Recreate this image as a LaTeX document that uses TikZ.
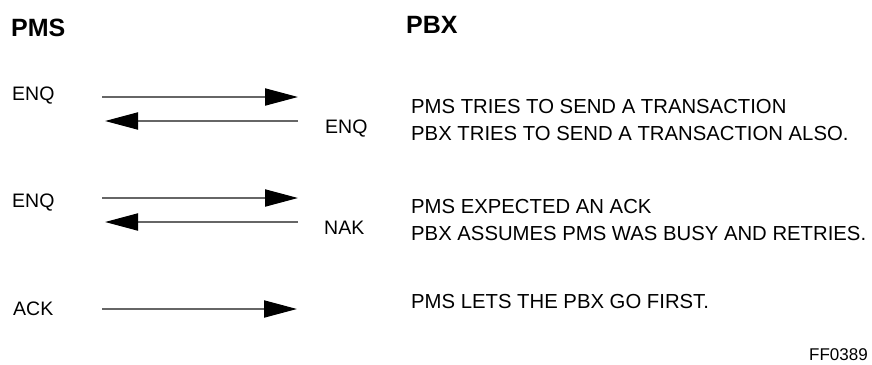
\documentclass[tikz,border=0pt]{standalone}
\usepackage{fontspec}
\setmainfont{Liberation Sans}
\usetikzlibrary{arrows.meta}
\begin{document}
\begin{tikzpicture}[x=1pt,y=-1pt,
  head/.style={font=\fontsize{25}{28}\selectfont\bfseries, inner sep=0pt, anchor=base west},
  lbl/.style={font=\fontsize{19.5}{22}\selectfont, inner sep=0pt, anchor=base west},
  note/.style={font=\fontsize{20.3}{23}\selectfont, inner sep=0pt, anchor=base west},
  msg/.style={draw=black!60, line width=2pt,
    -{Triangle[length=33pt,width=17pt,color=black]}}]
\useasboundingbox (0,0) rectangle (872,364);

% column headings
\node[head] (pms) at (11,36) {PMS};
\node[head] (pbx) at (406,33) {PBX};

% exchange 1: both sides send ENQ
\node[lbl] (enq1) at (12,100) {ENQ};
\node[lbl] (enq2) at (325,133) {ENQ};
\coordinate (a1s) at (102,97);  \coordinate (a1e) at (298,97);
\coordinate (b1s) at (298,121); \coordinate (b1e) at (105,121);
\draw[msg] (a1s) -- (a1e);
\draw[msg] (b1s) -- (b1e);
\node[note] (t1) at (411,113) {PMS TRIES TO SEND A TRANSACTION};
\node[note] (t2) at (411,140) {PBX TRIES TO SEND A TRANSACTION ALSO.};

% exchange 2: PMS retries ENQ, PBX answers NAK
\node[lbl] (enq3) at (12,207) {ENQ};
\node[lbl] (nak) at (324,234) {NAK};
\coordinate (a2s) at (102,198); \coordinate (a2e) at (298,198);
\coordinate (b2s) at (298,222); \coordinate (b2e) at (105,222);
\draw[msg] (a2s) -- (a2e);
\draw[msg] (b2s) -- (b2e);
\node[note] (t3) at (411,213) {PMS EXPECTED AN ACK};
\node[note] (t4) at (411,240) {PBX ASSUMES PMS WAS BUSY AND RETRIES.};

% exchange 3: PMS acknowledges
\node[lbl] (ack) at (13,315) {ACK};
\coordinate (a3s) at (102,309); \coordinate (a3e) at (297,309);
\draw[msg] (a3s) -- (a3e);
\node[note] (t5) at (411,308) {PMS LETS THE PBX GO FIRST.};

% figure number
\node[font=\fontsize{17}{19}\selectfont, inner sep=0pt, anchor=base east] (fig) at (868,360) {FF0389};
\end{tikzpicture}
\end{document}
